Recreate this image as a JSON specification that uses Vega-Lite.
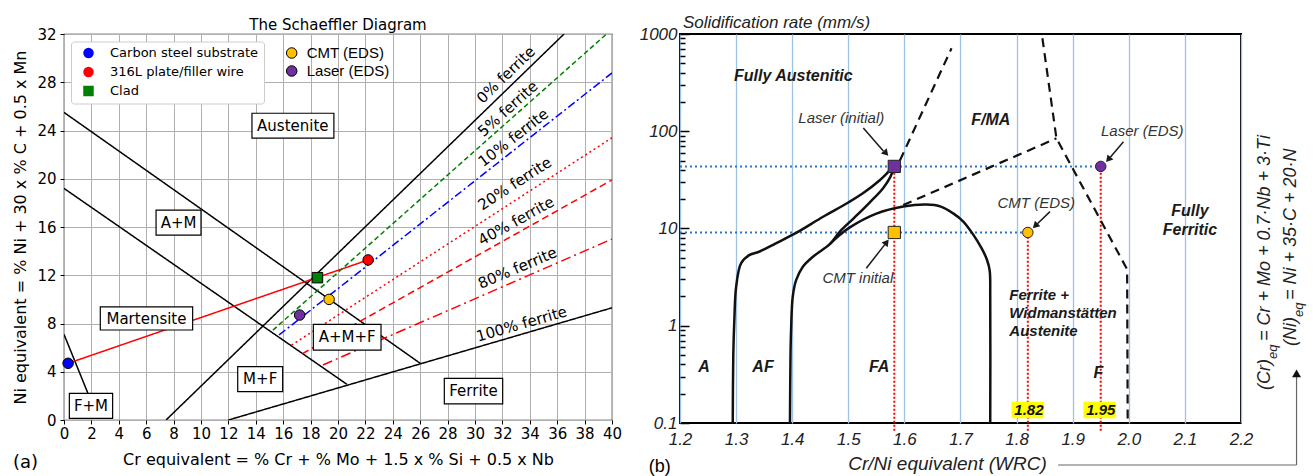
{
 "$schema": "https://vega.github.io/schema/vega-lite/v6.json",
 "autosize": {"type": "pad"},
 "padding": {"left": 12, "top": 13, "right": 0, "bottom": 0},
 "spacing": 15,
 "resolve": {
  "scale": {"color": "independent", "fill": "independent", "shape": "independent", "stroke": "independent", "strokeDash": "independent"},
  "legend": {"color": "independent", "fill": "independent", "shape": "independent"}
 },
 "config": {
  "font": "DejaVu Sans",
  "view": {"stroke": null},
  "axis": {"labelOverlap": false, "labelFlush": false, "labelColor": "black", "titleColor": "black", "tickColor": "black"}
 },
 "datasets": {
  "schaeffler_lines": [
   {"line": "A/A+M boundary", "x": 0, "y": 25.5}, {"line": "A/A+M boundary", "x": 26, "y": 4.7},
   {"line": "A+M/M boundary", "x": 0, "y": 19.2}, {"line": "A+M/M boundary", "x": 20.66, "y": 2.95},
   {"line": "M/F+M boundary", "x": 0, "y": 7.1}, {"line": "M/F+M boundary", "x": 1.75, "y": 2.2},
   {"line": "0% ferrite", "x": 7.45, "y": 0}, {"line": "0% ferrite", "x": 36.5, "y": 32},
   {"line": "100% ferrite", "x": 12, "y": 0}, {"line": "100% ferrite", "x": 40, "y": 9.3},
   {"line": "dilution", "x": 0.3, "y": 4.7}, {"line": "dilution", "x": 22.2, "y": 13.27},
   {"line": "5% ferrite", "x": 15.25, "y": 7.45}, {"line": "5% ferrite", "x": 39.6, "y": 32},
   {"line": "10% ferrite", "x": 15.7, "y": 7.05}, {"line": "10% ferrite", "x": 40, "y": 28.77},
   {"line": "20% ferrite", "x": 16.6, "y": 6.2}, {"line": "20% ferrite", "x": 40, "y": 23.4},
   {"line": "40% ferrite", "x": 17.4, "y": 5.5}, {"line": "40% ferrite", "x": 40, "y": 19.9},
   {"line": "80% ferrite", "x": 18.9, "y": 4.56}, {"line": "80% ferrite", "x": 40, "y": 15.0}
  ],
  "samples": [
   {"sample": "Carbon steel substrate", "group": "reference", "x": 0.3, "y": 4.7},
   {"sample": "316L plate/filler wire", "group": "reference", "x": 22.2, "y": 13.27},
   {"sample": "Clad", "group": "reference", "x": 18.5, "y": 11.8},
   {"sample": "CMT (EDS)", "group": "measured", "x": 19.35, "y": 10.0},
   {"sample": "Laser (EDS)", "group": "measured", "x": 17.2, "y": 8.7}
  ],
  "regions": [
   {"region": "Austenite", "x": 16.7, "y": 24.4, "x1": 13.72, "x2": 19.7, "y1": 23.36, "y2": 25.43},
   {"region": "A+M", "x": 8.36, "y": 16.37, "x1": 6.72, "x2": 10.0, "y1": 15.33, "y2": 17.4},
   {"region": "Martensite", "x": 6.02, "y": 8.41, "x1": 2.65, "x2": 9.39, "y1": 7.46, "y2": 9.37},
   {"region": "F+M", "x": 1.97, "y": 1.18, "x1": 0.39, "x2": 3.55, "y1": 0.14, "y2": 2.21},
   {"region": "M+F", "x": 14.32, "y": 3.39, "x1": 12.68, "x2": 15.96, "y1": 2.35, "y2": 4.42},
   {"region": "A+M+F", "x": 20.67, "y": 6.87, "x1": 18.2, "x2": 23.14, "y1": 5.8, "y2": 7.93},
   {"region": "Ferrite", "x": 29.89, "y": 2.39, "x1": 27.76, "x2": 32.02, "y1": 1.33, "y2": 3.45}
  ],
  "ferrite_labels": [
   {"label": "0% ferrite", "x": 32.26, "y": 28.62},
   {"label": "5% ferrite", "x": 32.4, "y": 25.8},
   {"label": "10% ferrite", "x": 32.8, "y": 23.4},
   {"label": "20% ferrite", "x": 32.9, "y": 19.6},
   {"label": "40% ferrite", "x": 33.0, "y": 16.5},
   {"label": "80% ferrite", "x": 33.1, "y": 12.6},
   {"label": "100% ferrite", "x": 33.4, "y": 7.96}
  ],
  "panel_a": [{"tag": "(a)", "x": -2.81, "y": -3.56}],
  "wrc_guides": [
   {"guide": "laser rate", "x": 1.2, "y": 43.5}, {"guide": "laser rate", "x": 1.95, "y": 43.5},
   {"guide": "CMT rate", "x": 1.2, "y": 9.1}, {"guide": "CMT rate", "x": 1.82, "y": 9.1}
  ],
  "wrc_drops": [
   {"guide": "initial", "x": 1.582, "y": 0.083}, {"guide": "initial", "x": 1.582, "y": 43.5},
   {"guide": "CMT EDS", "x": 1.82, "y": 0.083}, {"guide": "CMT EDS", "x": 1.82, "y": 9.1},
   {"guide": "Laser EDS", "x": 1.95, "y": 0.083}, {"guide": "Laser EDS", "x": 1.95, "y": 43.5}
  ],
  "wrc_solid": [
   {"curve": "A/AF", "ord": 1, "x": 1.294, "y": 0.1}, {"curve": "A/AF", "ord": 2, "x": 1.295, "y": 0.5},
   {"curve": "A/AF", "ord": 3, "x": 1.297, "y": 1.2}, {"curve": "A/AF", "ord": 4, "x": 1.3, "y": 2.5},
   {"curve": "A/AF", "ord": 5, "x": 1.309, "y": 4.4}, {"curve": "A/AF", "ord": 6, "x": 1.324, "y": 5.35},
   {"curve": "A/AF", "ord": 7, "x": 1.342, "y": 5.8}, {"curve": "A/AF", "ord": 8, "x": 1.37, "y": 7.0},
   {"curve": "A/AF", "ord": 9, "x": 1.407, "y": 9.0}, {"curve": "A/AF", "ord": 10, "x": 1.455, "y": 13.2},
   {"curve": "A/AF", "ord": 11, "x": 1.5, "y": 18.5}, {"curve": "A/AF", "ord": 12, "x": 1.526, "y": 23},
   {"curve": "A/AF", "ord": 13, "x": 1.555, "y": 31}, {"curve": "A/AF", "ord": 14, "x": 1.573, "y": 39},
   {"curve": "A/AF", "ord": 15, "x": 1.582, "y": 43.5},
   {"curve": "AF/FA", "ord": 1, "x": 1.396, "y": 0.1}, {"curve": "AF/FA", "ord": 2, "x": 1.397, "y": 0.5},
   {"curve": "AF/FA", "ord": 3, "x": 1.398, "y": 0.9}, {"curve": "AF/FA", "ord": 4, "x": 1.401, "y": 2.0},
   {"curve": "AF/FA", "ord": 5, "x": 1.407, "y": 2.95}, {"curve": "AF/FA", "ord": 6, "x": 1.419, "y": 4.05},
   {"curve": "AF/FA", "ord": 7, "x": 1.437, "y": 5.13}, {"curve": "AF/FA", "ord": 8, "x": 1.467, "y": 6.9},
   {"curve": "AF/FA", "ord": 9, "x": 1.485, "y": 9.3}, {"curve": "AF/FA", "ord": 10, "x": 1.51, "y": 12.8},
   {"curve": "AF/FA", "ord": 11, "x": 1.538, "y": 18.5}, {"curve": "AF/FA", "ord": 12, "x": 1.562, "y": 26},
   {"curve": "AF/FA", "ord": 13, "x": 1.575, "y": 34}, {"curve": "AF/FA", "ord": 14, "x": 1.582, "y": 43.5},
   {"curve": "FA dome", "ord": 1, "x": 1.467, "y": 6.9}, {"curve": "FA dome", "ord": 2, "x": 1.485, "y": 8.6},
   {"curve": "FA dome", "ord": 3, "x": 1.502, "y": 10.2}, {"curve": "FA dome", "ord": 4, "x": 1.55, "y": 14.2},
   {"curve": "FA dome", "ord": 5, "x": 1.598, "y": 16.8}, {"curve": "FA dome", "ord": 6, "x": 1.639, "y": 17.6},
   {"curve": "FA dome", "ord": 7, "x": 1.665, "y": 16.8}, {"curve": "FA dome", "ord": 8, "x": 1.687, "y": 14.3},
   {"curve": "FA dome", "ord": 9, "x": 1.705, "y": 11.8}, {"curve": "FA dome", "ord": 10, "x": 1.723, "y": 8.6},
   {"curve": "FA dome", "ord": 11, "x": 1.738, "y": 6.2}, {"curve": "FA dome", "ord": 12, "x": 1.747, "y": 4.8},
   {"curve": "FA dome", "ord": 13, "x": 1.752, "y": 3.7}, {"curve": "FA dome", "ord": 14, "x": 1.753, "y": 2.0},
   {"curve": "FA dome", "ord": 15, "x": 1.753, "y": 0.1}
  ],
  "wrc_dashed": [
   {"curve": "FA/F-MA", "ord": 1, "x": 1.592, "y": 50}, {"curve": "FA/F-MA", "ord": 2, "x": 1.684, "y": 713},
   {"curve": "F-MA lower", "ord": 1, "x": 1.598, "y": 17.4}, {"curve": "F-MA lower", "ord": 2, "x": 1.871, "y": 84.6},
   {"curve": "F boundary", "ord": 1, "x": 1.846, "y": 904}, {"curve": "F boundary", "ord": 2, "x": 1.871, "y": 84.6},
   {"curve": "F boundary", "ord": 3, "x": 1.997, "y": 3.8}, {"curve": "F boundary", "ord": 4, "x": 1.998, "y": 0.1}
  ],
  "wrc_arrows": [
   {"arrow": "Laser (initial)", "x": 1.5268, "y": 108, "x2": 1.5625, "y2": 62.7},
   {"arrow": "CMT (EDS)", "x": 1.8595, "y": 14.9, "x2": 1.8371, "y2": 11.17},
   {"arrow": "Laser (EDS)", "x": 1.9905, "y": 78.1, "x2": 1.967, "y2": 54.1},
   {"arrow": "CMT initial", "x": 1.5321, "y": 3.9, "x2": 1.565, "y2": 6.83}
  ],
  "wrc_heads": [
   {"arrow": "Laser (initial)", "x": 1.5673, "y": 59.3},
   {"arrow": "CMT (EDS)", "x": 1.8332, "y": 10.66},
   {"arrow": "Laser (EDS)", "x": 1.9634, "y": 51.2},
   {"arrow": "CMT initial", "x": 1.5684, "y": 7.23}
  ],
  "wrc_points": [
   {"point": "Laser (initial)", "source": "initial", "x": 1.582, "y": 43.5},
   {"point": "CMT initial", "source": "initial", "x": 1.582, "y": 9.1},
   {"point": "CMT (EDS)", "source": "EDS", "x": 1.82, "y": 9.1},
   {"point": "Laser (EDS)", "source": "EDS", "x": 1.95, "y": 43.5}
  ],
  "wrc_regions": [
   {"region": "Fully Austenitic", "x": 1.402, "y": 370},
   {"region": "F/MA", "x": 1.754, "y": 130},
   {"region": "A", "x": 1.243, "y": 0.377},
   {"region": "AF", "x": 1.348, "y": 0.377},
   {"region": "FA", "x": 1.555, "y": 0.377},
   {"region": "F", "x": 1.946, "y": 0.327},
   {"region": "Fully\nFerritic", "x": 2.109, "y": 15.0}
  ],
  "wrc_region_fwa": [{"region": "Ferrite +\nWidmanstätten\nAustenite", "x": 1.787, "y": 2.07}],
  "wrc_notes": [
   {"note": "Laser (initial)", "x": 1.4875, "y": 138},
   {"note": "CMT (EDS)", "x": 1.835, "y": 18.5},
   {"note": "Laser (EDS)", "x": 2.024, "y": 101},
   {"note": "CMT initial", "x": 1.517, "y": 3.08}
  ],
  "wrc_values": [
   {"value": "1.82", "x": 1.822, "y": 0.136, "x1": 1.791, "x2": 1.849, "y1": 0.1117, "y2": 0.1656},
   {"value": "1.95", "x": 1.95, "y": 0.136, "x1": 1.919, "x2": 1.977, "y1": 0.1117, "y2": 0.1656}
  ],
  "wrc_equations": [
   {"piece": "(Cr)", "x": 2.2429, "y": 0.2184},
   {"piece": "= Cr + Mo + 0.7·Nb + 3·Ti", "x": 2.2429, "y": 0.697},
   {"piece": "(Ni)", "x": 2.2893, "y": 0.619},
   {"piece": "= Ni + 35·C + 20·N", "x": 2.2893, "y": 1.84}
  ],
  "wrc_subscripts": [
   {"piece": "eq", "x": 2.2571, "y": 0.455},
   {"piece": "eq", "x": 2.3036, "y": 1.23}
  ],
  "wrc_link": [
   {"seg": "along title", "x": 1.874, "y": 0.037, "x2": 2.299, "y2": 0.037},
   {"seg": "up to formulas", "x": 2.299, "y": 0.037, "x2": 2.299, "y2": 0.297}
  ],
  "wrc_link_head": [{"seg": "head", "x": 2.299, "y": 0.323}],
  "panel_b": [{"tag": "(b)", "x": 1.164, "y": 0.0353}]
 },
 "hconcat": [
  {
   "width": 548,
   "height": 386,
   "view": {"stroke": "#1a1a1a", "strokeWidth": 1.2},
   "title": {"text": "The Schaeffler Diagram", "font": "DejaVu Sans", "fontSize": 15, "fontWeight": "normal", "color": "black", "anchor": "middle", "frame": "group", "offset": -6},
   "layer": [
    {
     "data": {"name": "schaeffler_lines"},
     "mark": {"type": "line", "strokeWidth": 1.5, "clip": true},
     "encoding": {
      "x": {"field": "x", "type": "quantitative", "scale": {"domain": [0, 40], "nice": false, "zero": false},
       "axis": {"values": [0, 2, 4, 6, 8, 10, 12, 14, 16, 18, 20, 22, 24, 26, 28, 30, 32, 34, 36, 38, 40], "tickCount": 50, "format": "d", "grid": true, "gridColor": "#b0b0b0", "gridWidth": 1, "domain": false, "ticks": true, "tickSize": 4, "tickWidth": 1, "labelFont": "DejaVu Sans", "labelFontSize": 15, "labelPadding": 2, "labelOverlap": false, "title": "Cr equivalent = % Cr + % Mo + 1.5 x % Si + 0.5 x Nb", "titleFont": "DejaVu Sans", "titleFontSize": 16, "titleFontWeight": "normal", "titlePadding": 10}},
      "y": {"field": "y", "type": "quantitative", "scale": {"domain": [0, 32], "nice": false, "zero": false},
       "axis": {"values": [0, 4, 8, 12, 16, 20, 24, 28, 32], "tickCount": 50, "format": "d", "grid": true, "gridColor": "#b0b0b0", "gridWidth": 1, "domain": false, "ticks": true, "tickSize": 4, "tickWidth": 1, "labelFont": "DejaVu Sans", "labelFontSize": 15, "labelPadding": 4, "labelOverlap": false, "title": "Ni equivalent = % Ni + 30 x % C + 0.5 x Mn", "titleFont": "DejaVu Sans", "titleFontSize": 16, "titleFontWeight": "normal", "titlePadding": 8}},
      "detail": {"field": "line"},
      "stroke": {"field": "line", "type": "nominal", "legend": null,
       "scale": {"domain": ["A/A+M boundary", "A+M/M boundary", "M/F+M boundary", "0% ferrite", "100% ferrite", "dilution", "5% ferrite", "10% ferrite", "20% ferrite", "40% ferrite", "80% ferrite"],
        "range": ["black", "black", "black", "black", "black", "#ff0000", "#008000", "#0000ff", "#ff0000", "#ff0000", "#ff0000"]}},
      "strokeDash": {"field": "line", "type": "nominal", "legend": null,
       "scale": {"domain": ["A/A+M boundary", "A+M/M boundary", "M/F+M boundary", "0% ferrite", "100% ferrite", "dilution", "5% ferrite", "10% ferrite", "20% ferrite", "40% ferrite", "80% ferrite"],
        "range": [[1, 0], [1, 0], [1, 0], [1, 0], [1, 0], [1, 0], [5, 3], [8, 3, 2, 3], [2, 3], [7, 4], [10, 4, 2, 4]]}}
     }
    },
    {
     "data": {"name": "regions"},
     "mark": {"type": "rect", "fill": "white", "stroke": "black", "strokeWidth": 1.2},
     "encoding": {"x": {"field": "x1", "type": "quantitative"}, "x2": {"field": "x2"}, "y": {"field": "y1", "type": "quantitative"}, "y2": {"field": "y2"}}
    },
    {
     "data": {"name": "regions"},
     "mark": {"type": "text", "font": "DejaVu Sans", "fontSize": 15, "color": "black", "align": "center", "baseline": "middle"},
     "encoding": {"x": {"field": "x", "type": "quantitative"}, "y": {"field": "y", "type": "quantitative"}, "text": {"field": "region"}}
    },
    {
     "data": {"name": "samples"},
     "transform": [{"filter": "datum.group == 'reference'"}],
     "mark": {"type": "point", "filled": true, "stroke": "black", "strokeWidth": 1, "size": 110, "opacity": 1},
     "encoding": {
      "x": {"field": "x", "type": "quantitative"},
      "y": {"field": "y", "type": "quantitative"},
      "fill": {"field": "sample", "type": "nominal",
       "scale": {"domain": ["Carbon steel substrate", "316L plate/filler wire", "Clad"], "range": ["#0000ff", "#ff0000", "#008000"]},
       "legend": {"title": null, "orient": "none", "legendX": 7, "legendY": 7.5, "direction": "vertical", "fillColor": "white", "strokeColor": "#cccccc", "cornerRadius": 3, "padding": 5, "rowPadding": 4, "symbolSize": 110, "symbolStrokeColor": "black", "symbolStrokeWidth": 1, "symbolOffset": 6, "labelFont": "DejaVu Sans", "labelFontSize": 13, "labelColor": "black", "labelOffset": 15, "labelLimit": 300}},
      "shape": {"field": "sample", "type": "nominal",
       "scale": {"domain": ["Carbon steel substrate", "316L plate/filler wire", "Clad"], "range": ["circle", "circle", "square"]},
       "legend": {"title": null, "orient": "none", "legendX": 7, "legendY": 7.5, "direction": "vertical", "fillColor": "white", "strokeColor": "#cccccc", "cornerRadius": 3, "padding": 5, "rowPadding": 4, "symbolSize": 110, "symbolStrokeColor": "black", "symbolStrokeWidth": 1, "symbolOffset": 6, "labelFont": "DejaVu Sans", "labelFontSize": 13, "labelColor": "black", "labelOffset": 15, "labelLimit": 300}}
     }
    },
    {
     "data": {"name": "samples"},
     "transform": [{"filter": "datum.group == 'measured'"}],
     "mark": {"type": "point", "filled": true, "stroke": "black", "strokeWidth": 1, "size": 110, "opacity": 1, "shape": "circle"},
     "encoding": {
      "x": {"field": "x", "type": "quantitative"},
      "y": {"field": "y", "type": "quantitative"},
      "color": {"field": "sample", "type": "nominal",
       "scale": {"domain": ["CMT (EDS)", "Laser (EDS)"], "range": ["#ffc000", "#7030a0"]},
       "legend": {"title": null, "orient": "none", "legendX": 220.2, "legendY": 11.5, "direction": "vertical", "padding": 0, "rowPadding": 2, "symbolSize": 110, "symbolType": "circle", "symbolStrokeColor": "black", "symbolStrokeWidth": 1, "labelFont": "Liberation Sans", "labelFontSize": 15, "labelColor": "black", "labelOffset": 7.5, "labelLimit": 300}}
     }
    },
    {"data": {"name": "ferrite_labels"}, "transform": [{"filter": "datum.label == '0% ferrite'"}],
     "mark": {"type": "text", "font": "DejaVu Sans", "fontSize": 15, "color": "black", "align": "center", "baseline": "middle", "angle": 316},
     "encoding": {"x": {"field": "x", "type": "quantitative"}, "y": {"field": "y", "type": "quantitative"}, "text": {"field": "label"}}},
    {"data": {"name": "ferrite_labels"}, "transform": [{"filter": "datum.label == '5% ferrite'"}],
     "mark": {"type": "text", "font": "DejaVu Sans", "fontSize": 15, "color": "black", "align": "center", "baseline": "middle", "angle": 318},
     "encoding": {"x": {"field": "x", "type": "quantitative"}, "y": {"field": "y", "type": "quantitative"}, "text": {"field": "label"}}},
    {"data": {"name": "ferrite_labels"}, "transform": [{"filter": "datum.label == '10% ferrite'"}],
     "mark": {"type": "text", "font": "DejaVu Sans", "fontSize": 15, "color": "black", "align": "center", "baseline": "middle", "angle": 322},
     "encoding": {"x": {"field": "x", "type": "quantitative"}, "y": {"field": "y", "type": "quantitative"}, "text": {"field": "label"}}},
    {"data": {"name": "ferrite_labels"}, "transform": [{"filter": "datum.label == '20% ferrite'"}],
     "mark": {"type": "text", "font": "DejaVu Sans", "fontSize": 15, "color": "black", "align": "center", "baseline": "middle", "angle": 327},
     "encoding": {"x": {"field": "x", "type": "quantitative"}, "y": {"field": "y", "type": "quantitative"}, "text": {"field": "label"}}},
    {"data": {"name": "ferrite_labels"}, "transform": [{"filter": "datum.label == '40% ferrite'"}],
     "mark": {"type": "text", "font": "DejaVu Sans", "fontSize": 15, "color": "black", "align": "center", "baseline": "middle", "angle": 331},
     "encoding": {"x": {"field": "x", "type": "quantitative"}, "y": {"field": "y", "type": "quantitative"}, "text": {"field": "label"}}},
    {"data": {"name": "ferrite_labels"}, "transform": [{"filter": "datum.label == '80% ferrite'"}],
     "mark": {"type": "text", "font": "DejaVu Sans", "fontSize": 15, "color": "black", "align": "center", "baseline": "middle", "angle": 337},
     "encoding": {"x": {"field": "x", "type": "quantitative"}, "y": {"field": "y", "type": "quantitative"}, "text": {"field": "label"}}},
    {"data": {"name": "ferrite_labels"}, "transform": [{"filter": "datum.label == '100% ferrite'"}],
     "mark": {"type": "text", "font": "DejaVu Sans", "fontSize": 15, "color": "black", "align": "center", "baseline": "middle", "angle": 344},
     "encoding": {"x": {"field": "x", "type": "quantitative"}, "y": {"field": "y", "type": "quantitative"}, "text": {"field": "label"}}},
    {"data": {"name": "panel_a"},
     "mark": {"type": "text", "font": "DejaVu Sans", "fontSize": 18, "color": "black", "align": "center", "baseline": "middle"},
     "encoding": {"x": {"field": "x", "type": "quantitative"}, "y": {"field": "y", "type": "quantitative"}, "text": {"field": "tag"}}}
   ]
  },
  {
   "width": 561,
   "height": 389,
   "view": {"stroke": "black", "strokeWidth": 2},
   "title": {"text": "Solidification rate (mm/s)", "font": "Liberation Sans", "fontSize": 17, "fontStyle": "italic", "fontWeight": "normal", "color": "#222222", "anchor": "start", "frame": "group", "offset": -7, "dx": 3},
   "layer": [
    {
     "data": {"name": "wrc_guides"},
     "mark": {"type": "line", "stroke": "#2e75c6", "strokeWidth": 2, "strokeDash": [2, 3]},
     "encoding": {
      "x": {"field": "x", "type": "quantitative", "scale": {"domain": [1.2, 2.2], "nice": false, "zero": false},
       "axis": {"values": [1.2, 1.3, 1.4, 1.5, 1.6, 1.7, 1.8, 1.9, 2.0, 2.1, 2.2], "tickCount": 50, "format": ".1f", "grid": true, "gridColor": "#9dc3e6", "gridWidth": 1.3, "domain": false, "ticks": false, "labelFont": "Liberation Sans", "labelFontStyle": "italic", "labelFontSize": 17, "labelColor": "#222222", "labelPadding": 8,
        "title": "Cr/Ni equivalent (WRC)", "titleFont": "Liberation Sans", "titleFontStyle": "italic", "titleFontSize": 19, "titleFontWeight": "normal", "titleColor": "#222222", "titleX": 267, "titleAlign": "center", "titlePadding": 7}},
      "y": {"field": "y", "type": "quantitative", "scale": {"type": "log", "domain": [0.1, 1000], "nice": false},
       "axis": {"title": null, "values": [0.1, 0.2, 0.3, 0.4, 0.5, 0.6, 0.7, 0.8, 0.9, 1, 2, 3, 4, 5, 6, 7, 8, 9, 10, 20, 30, 40, 50, 60, 70, 80, 90, 100, 200, 300, 400, 500, 600, 700, 800, 900, 1000],
        "tickCount": 100, "format": "~g", "labelExpr": "indexof([0.1, 1, 10, 100, 1000], datum.value) >= 0 ? datum.label : ''",
        "grid": false, "domain": false, "ticks": true, "tickColor": "black", "tickWidth": 1.5,
        "tickSize": {"condition": {"test": "indexof([0.1, 1, 10, 100, 1000], datum.value) >= 0", "value": -9}, "value": -5},
        "labelFont": "Liberation Sans", "labelFontStyle": "italic", "labelFontSize": 17, "labelColor": "#222222", "labelPadding": 12}},
      "detail": {"field": "guide"}
     }
    },
    {
     "data": {"name": "wrc_drops"},
     "mark": {"type": "line", "stroke": "#ff0000", "strokeWidth": 2, "strokeDash": [2, 2], "clip": false},
     "encoding": {"x": {"field": "x", "type": "quantitative"}, "y": {"field": "y", "type": "quantitative"}, "detail": {"field": "guide"}}
    },
    {
     "data": {"name": "wrc_solid"},
     "mark": {"type": "line", "stroke": "#111111", "strokeWidth": 2.5, "interpolate": "catmull-rom"},
     "encoding": {"x": {"field": "x", "type": "quantitative"}, "y": {"field": "y", "type": "quantitative"}, "detail": {"field": "curve"}, "order": {"field": "ord", "type": "quantitative"}}
    },
    {
     "data": {"name": "wrc_dashed"},
     "mark": {"type": "line", "stroke": "#111111", "strokeWidth": 2.2, "strokeDash": [9, 6]},
     "encoding": {"x": {"field": "x", "type": "quantitative"}, "y": {"field": "y", "type": "quantitative"}, "detail": {"field": "curve"}, "order": {"field": "ord", "type": "quantitative"}}
    },
    {
     "data": {"name": "wrc_arrows"},
     "mark": {"type": "rule", "stroke": "#1a1a1a", "strokeWidth": 1.5},
     "encoding": {"x": {"field": "x", "type": "quantitative"}, "y": {"field": "y", "type": "quantitative"}, "x2": {"field": "x2"}, "y2": {"field": "y2"}}
    },
    {"data": {"name": "wrc_heads"}, "transform": [{"filter": "datum.arrow == 'Laser (initial)'"}],
     "mark": {"type": "point", "shape": "triangle-up", "filled": true, "color": "#1a1a1a", "size": 60, "opacity": 1, "angle": 138},
     "encoding": {"x": {"field": "x", "type": "quantitative"}, "y": {"field": "y", "type": "quantitative"}}},
    {"data": {"name": "wrc_heads"}, "transform": [{"filter": "datum.arrow == 'CMT (EDS)'"}],
     "mark": {"type": "point", "shape": "triangle-up", "filled": true, "color": "#1a1a1a", "size": 60, "opacity": 1, "angle": 226},
     "encoding": {"x": {"field": "x", "type": "quantitative"}, "y": {"field": "y", "type": "quantitative"}}},
    {"data": {"name": "wrc_heads"}, "transform": [{"filter": "datum.arrow == 'Laser (EDS)'"}],
     "mark": {"type": "point", "shape": "triangle-up", "filled": true, "color": "#1a1a1a", "size": 60, "opacity": 1, "angle": 220},
     "encoding": {"x": {"field": "x", "type": "quantitative"}, "y": {"field": "y", "type": "quantitative"}}},
    {"data": {"name": "wrc_heads"}, "transform": [{"filter": "datum.arrow == 'CMT initial'"}],
     "mark": {"type": "point", "shape": "triangle-up", "filled": true, "color": "#1a1a1a", "size": 60, "opacity": 1, "angle": 38},
     "encoding": {"x": {"field": "x", "type": "quantitative"}, "y": {"field": "y", "type": "quantitative"}}},
    {
     "data": {"name": "wrc_points"},
     "transform": [{"filter": "datum.source == 'initial'"}],
     "mark": {"type": "point", "shape": "square", "filled": true, "size": 150, "stroke": "#222222", "strokeWidth": 1, "opacity": 1},
     "encoding": {"x": {"field": "x", "type": "quantitative"}, "y": {"field": "y", "type": "quantitative"},
      "color": {"field": "point", "type": "nominal", "legend": null, "scale": {"domain": ["Laser (initial)", "CMT initial", "CMT (EDS)", "Laser (EDS)"], "range": ["#7030a0", "#ffc000", "#ffc000", "#7030a0"]}}}
    },
    {
     "data": {"name": "wrc_points"},
     "transform": [{"filter": "datum.source == 'EDS'"}],
     "mark": {"type": "point", "shape": "circle", "filled": true, "size": 110, "stroke": "#222222", "strokeWidth": 1, "opacity": 1},
     "encoding": {"x": {"field": "x", "type": "quantitative"}, "y": {"field": "y", "type": "quantitative"},
      "color": {"field": "point", "type": "nominal", "legend": null}}
    },
    {
     "data": {"name": "wrc_regions"},
     "mark": {"type": "text", "font": "Liberation Sans", "fontSize": 16, "fontWeight": "bold", "fontStyle": "italic", "color": "#1a1a1a", "align": "center", "baseline": "middle", "lineBreak": "\n", "lineHeight": 19},
     "encoding": {"x": {"field": "x", "type": "quantitative"}, "y": {"field": "y", "type": "quantitative"}, "text": {"field": "region"}}
    },
    {
     "data": {"name": "wrc_region_fwa"},
     "mark": {"type": "text", "font": "Liberation Sans", "fontSize": 15, "fontWeight": "bold", "fontStyle": "italic", "color": "#1a1a1a", "align": "left", "baseline": "middle", "lineBreak": "\n", "lineHeight": 18},
     "encoding": {"x": {"field": "x", "type": "quantitative"}, "y": {"field": "y", "type": "quantitative"}, "text": {"field": "region"}}
    },
    {
     "data": {"name": "wrc_notes"},
     "mark": {"type": "text", "font": "Liberation Sans", "fontSize": 15, "fontStyle": "italic", "color": "#333333", "align": "center", "baseline": "middle"},
     "encoding": {"x": {"field": "x", "type": "quantitative"}, "y": {"field": "y", "type": "quantitative"}, "text": {"field": "note"}}
    },
    {
     "data": {"name": "wrc_values"},
     "mark": {"type": "rect", "fill": "#ffff00"},
     "encoding": {"x": {"field": "x1", "type": "quantitative"}, "x2": {"field": "x2"}, "y": {"field": "y1", "type": "quantitative"}, "y2": {"field": "y2"}}
    },
    {
     "data": {"name": "wrc_values"},
     "mark": {"type": "text", "font": "Liberation Sans", "fontSize": 15, "fontWeight": "bold", "fontStyle": "italic", "color": "#111111", "align": "center", "baseline": "middle"},
     "encoding": {"x": {"field": "x", "type": "quantitative"}, "y": {"field": "y", "type": "quantitative"}, "text": {"field": "value"}}
    },
    {
     "data": {"name": "wrc_equations"},
     "mark": {"type": "text", "font": "Liberation Sans", "fontSize": 18, "fontStyle": "italic", "color": "#222222", "align": "left", "baseline": "middle", "angle": 270},
     "encoding": {"x": {"field": "x", "type": "quantitative"}, "y": {"field": "y", "type": "quantitative"}, "text": {"field": "piece"}}
    },
    {
     "data": {"name": "wrc_subscripts"},
     "mark": {"type": "text", "font": "Liberation Sans", "fontSize": 13, "fontStyle": "italic", "color": "#222222", "align": "left", "baseline": "middle", "angle": 270},
     "encoding": {"x": {"field": "x", "type": "quantitative"}, "y": {"field": "y", "type": "quantitative"}, "text": {"field": "piece"}}
    },
    {
     "data": {"name": "wrc_link"},
     "mark": {"type": "rule", "stroke": "#666666", "strokeWidth": 1.2},
     "encoding": {"x": {"field": "x", "type": "quantitative"}, "y": {"field": "y", "type": "quantitative"}, "x2": {"field": "x2"}, "y2": {"field": "y2"}}
    },
    {
     "data": {"name": "wrc_link_head"},
     "mark": {"type": "point", "shape": "triangle-up", "filled": true, "color": "#111111", "size": 80, "opacity": 1},
     "encoding": {"x": {"field": "x", "type": "quantitative"}, "y": {"field": "y", "type": "quantitative"}}
    },
    {
     "data": {"name": "panel_b"},
     "mark": {"type": "text", "font": "Liberation Sans", "fontSize": 18, "color": "black", "align": "center", "baseline": "middle"},
     "encoding": {"x": {"field": "x", "type": "quantitative"}, "y": {"field": "y", "type": "quantitative"}, "text": {"field": "tag"}}
    }
   ]
  }
 ]
}
